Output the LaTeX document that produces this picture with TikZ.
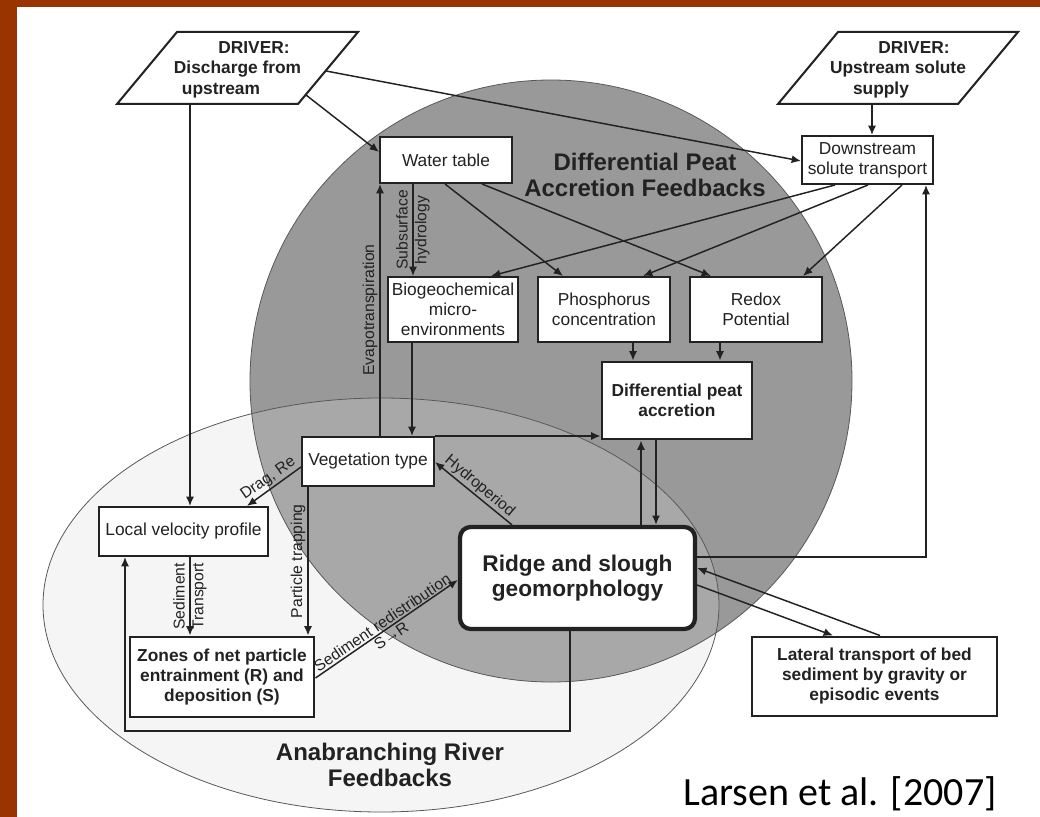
\documentclass[tikz,border=0pt]{standalone}
\usepackage{fontspec}
\setmainfont{Liberation Sans}
\newfontfamily\citefont{Carlito}
\usetikzlibrary{arrows.meta}

\definecolor{frame}{HTML}{993300}
\definecolor{ink}{HTML}{222222}
\definecolor{peatzone}{HTML}{999999}
\definecolor{overlap}{HTML}{A8A8A8}
\definecolor{riverzone}{HTML}{F5F5F5}

\begin{document}
\begin{tikzpicture}[x=0.75pt,y=-0.75pt,
  box/.style={draw=ink, line width=1.5pt, fill=white, inner sep=0pt, align=center,
    text=ink, font=\fontsize{13}{15}\selectfont},
  keybox/.style={box, line width=2.2pt, font=\bfseries\fontsize{13}{15}\selectfont},
  hub/.style={box, line width=3.2pt, rounded corners=8pt, font=\bfseries\fontsize{17}{19}\selectfont},
  drivertext/.style={text=ink, font=\bfseries\fontsize{13}{15}\selectfont, inner sep=0pt, anchor=base},
  driver/.style={draw=ink, line width=1.5pt, fill=white},
  arr/.style={draw=ink, line width=1.1pt, -{Latex[length=7pt,width=6pt]}},
  link/.style={draw=ink, line width=1.1pt},
  lbl/.style={text=ink, font=\fontsize{11.8}{14}\selectfont, inner sep=1.5pt, align=center},
  zonetitle/.style={text=ink, font=\bfseries\fontsize{18}{20}\selectfont, align=center},
]
\useasboundingbox (0,0) rectangle (1040,817);
\fill[white] (0,0) rectangle (1040,817);
\fill[frame] (0,0) rectangle (1040,7);
\fill[frame] (0,0) rectangle (17,817);

% feedback zones: anabranching river (ellipse) and peat accretion (circle)
\fill[riverzone] (381,605) ellipse [x radius=253.5pt, y radius=155.25pt];
\fill[peatzone] (551,381) circle [radius=225.75pt];
\begin{scope}
  \clip (381,605) ellipse [x radius=253.5pt, y radius=155.25pt];
  \fill[overlap] (551,381) circle [radius=225.75pt];
\end{scope}
\draw[ink!75, line width=0.6pt] (551,381) circle [radius=225.75pt];
\draw[ink!75, line width=0.6pt] (381,605) ellipse [x radius=253.5pt, y radius=155.25pt];

\node[zonetitle] (peattitle) at (645,175) {Differential Peat\\Accretion Feedbacks};
\node[zonetitle] (rivertitle) at (390,765) {Anabranching River\\Feedbacks};

% drivers
\draw[driver] (117,104) -- (177,32) -- (358,32) -- (298,104) -- cycle;
\node[drivertext] (d1a) at (254,54) {DRIVER:};
\node[drivertext] (d1b) at (237.5,74) {Discharge from};
\node[drivertext] (d1c) at (221,94) {upstream};
\draw[driver] (778,104) -- (838,32) -- (1018,32) -- (958,104) -- cycle;
\node[drivertext] (d2a) at (914,54) {DRIVER:};
\node[drivertext] (d2b) at (898,74) {Upstream solute};
\node[drivertext] (d2c) at (881,94) {supply};
\coordinate (d1wt) at (306,95);
\coordinate (d1ds) at (326,71);
\coordinate (d1lv) at (190,104);
\coordinate (d2ds) at (872,104);

% process boxes
\node[box, minimum width=99pt, minimum height=34.5pt] (water) at (446,160) {Water table};
\node[box, minimum width=98.25pt, minimum height=36pt] (down) at (867.5,160) {Downstream\\solute transport};
\node[box, minimum width=97.5pt, minimum height=48.75pt] (bio) at (453,309.5) {Biogeochemical\\micro-\\environments};
\node[box, minimum width=99pt, minimum height=48.75pt] (phos) at (604,309.5) {Phosphorus\\concentration};
\node[box, minimum width=99pt, minimum height=48.75pt] (redox) at (756,309.5) {Redox\\Potential};
\node[keybox, minimum width=112.5pt, minimum height=57.75pt] (peat) at (677,400.5) {Differential peat\\accretion};
\node[box, minimum width=99pt, minimum height=36.75pt] (veg) at (368,461.5) {Vegetation type};
\node[box, minimum width=126.75pt, minimum height=36.75pt] (lvp) at (183.5,531.5) {Local velocity profile};
\node[hub, minimum width=176.25pt, minimum height=76.5pt] (ridge) at (577.5,578) {Ridge and slough\\geomorphology};
\node[keybox, minimum width=138pt, minimum height=60pt] (zones) at (222,677) {Zones of net particle\\entrainment (R) and\\deposition (S)};
\node[keybox, minimum width=183.75pt, minimum height=59.25pt] (lateral) at (874.5,676.5) {Lateral transport of bed\\sediment by gravity or\\episodic events};

% driver links
\draw[arr] (d1wt) -- (water.west |- 0,152);
\draw[arr] (d1ds) -- (down.west |- 0,161);
\draw[arr] (d1lv) -- (d1lv |- lvp.north);
\draw[arr] (d2ds) -- (d2ds |- down.north);

% peat accretion links
\draw[arr] (water.south -| 445,0) -- (phos.north -| 563,0);
\draw[arr] (water.south -| 482,0) -- (redox.north -| 711,0);
\draw[arr] (down.south -| 835,0) -- (bio.north -| 491,0);
\draw[arr] (down.south -| 868,0) -- (phos.north -| 643,0);
\draw[arr] (down.south -| 902,0) -- (redox.north -| 803,0);
\draw[arr] (water.south -| 413,0) -- node[lbl, rotate=90, inner sep=0pt] (subsurf) {Subsurface\\hydrology} (bio.north -| 413,0);
\draw[arr] (bio.south -| 412,0) -- (veg.north -| 412,0);
\draw[arr] (veg.north -| 380,0) -- node[lbl, rotate=90, anchor=south] (evap) {Evapotranspiration} (water.south -| 380,0);
\draw[arr] (phos.south -| 633,0) -- (peat.north -| 633,0);
\draw[arr] (redox.south -| 720,0) -- (peat.north -| 720,0);
\draw[arr] (veg.north east) -- (peat.west |- veg.north east);
\draw[arr] (ridge.north -| 641,0) -- (peat.south -| 641,0);
\draw[arr] (peat.south -| 656,0) -- (ridge.north -| 656,0);
\draw[arr] (ridge.east |- 0,557) -| (down.south -| 926,0);

% lateral transport
\draw[arr] (lateral.north -| 880,0) -- (ridge.east |- 0,568);
\draw[arr] (ridge.east |- 0,585) -- (lateral.north -| 833,0);

% anabranching river links
\draw[arr] (ridge.south -| 570,0) -- ++(0,100) -| (lvp.south -| 125,0);
\draw[arr] (lvp.south -| 190,0) -- node[lbl, rotate=90, inner sep=0pt] (sedtr) {Sediment\\Transport} (zones.north -| 190,0);
\draw[arr] (veg.south -| 308,0) -- node[lbl, rotate=90, anchor=south] (trap) {Particle trapping} (zones.north -| 308,0);
\draw[arr] (zones.east |- 0,678) -- node[lbl, rotate=34, inner sep=0pt, font=\fontsize{11.8}{12}\selectfont] (redist) {Sediment redistribution\\S→R} (ridge.west |- 0,580);
\draw[arr] (veg.west |- 0,467) -- node[lbl, rotate=35, anchor=south] (drag) {Drag, Re} (lvp.north -| 247,0);
\draw[arr] (ridge.north -| 512,0) -- node[lbl, rotate=-40, anchor=south, inner sep=1pt] (hydro) {Hydroperiod} (veg.east |- 0,462);

% citation
\node[font=\citefont\fontsize{30}{36}\selectfont, anchor=base, inner sep=0pt] (cite) at (840,805) {Larsen et al. [2007]};
\end{tikzpicture}
\end{document}
